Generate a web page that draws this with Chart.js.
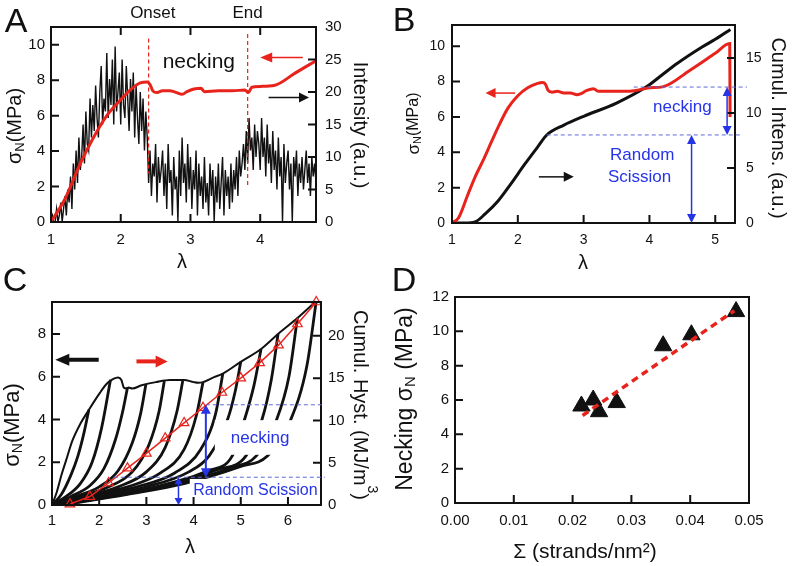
<!DOCTYPE html>
<html><head><meta charset="utf-8">
<script src="https://cdn.jsdelivr.net/npm/chart.js@4.4.1/dist/chart.umd.min.js"></script>
<style>
html,body{margin:0;padding:0;background:#fff;}
#wrap{position:relative;width:793px;height:566px;overflow:hidden;background:#fff;}
#wrap canvas{position:absolute;left:0;top:0;}
</style></head><body>
<div id="wrap">
<canvas id="cA" width="793" height="566"></canvas>
<canvas id="cB" width="793" height="566"></canvas>
<canvas id="cC" width="793" height="566"></canvas>
<canvas id="cD" width="793" height="566"></canvas>
</div>
<script>
// ================= DATA =================
// Panel A : stress (left axis) and scattered intensity (right axis), sampled every 0.02 in lambda from 1.00
const aStressLam = [1.0,1.2,1.42,1.6,1.8,2.0,2.15,2.28,2.38,2.42,2.46,2.52,2.6,2.7,2.8,2.88,2.95,3.05,3.15,3.2,3.4,3.6,3.78,3.83,3.88,4.0,4.2,4.5,4.8];
const aStress    = [0,1.3,3.3,4.7,6.0,6.9,7.5,7.85,7.9,7.75,7.4,7.3,7.4,7.4,7.3,7.2,7.35,7.5,7.55,7.35,7.4,7.4,7.45,7.3,7.6,7.65,7.7,8.4,9.1];
const aIntensityStart = 1.0, aIntensityStep = 0.02;
const aIntensity = [
 0,1,0,0,2,0,1,3,0,2,
 4,1,5,3,7,2,9,5,11,6,
 13,8,10,15,9,17,12,11,19,13,
 18,14,21,16,13,20,24,15,19,17,
 26,16,22,18,25,15,27,17,20,23,
 15,25,18,16,24,19,14,22,17,23,
 13,21,16,12,20,14,19,11,17,13,
 6,11,4,9,7,12,3,10,6,8,
 11,4,9,2,12,6,8,1,10,5,
 7,0,11,4,13,6,9,3,12,5,
 10,2,8,5,11,1,9,4,7,2,
 10,3,6,1,9,4,8,0,7,3,
 9,2,6,10,1,8,4,7,2,9,
 3,8,5,10,4,11,7,9,12,8,
 14,9,16,11,13,8,15,10,14,12,
 8,16,10,13,7,15,9,12,6,14,
 8,11,5,13,7,10,0,12,6,9,
 11,5,9,0,10,7,11,4,9,6,
 10,5,8,11,6,9,4,10,7,9,
 6];
const aXTicks = [1,2,3,4], aYTicks = [0,2,4,6,8,10], aY2Ticks = [0,5,10,15,20,25,30];

// Panel B : stress (left) and cumulative intensity (right)
const bStressLam = [1.0,1.1,1.23,1.35,1.48,1.6,1.73,1.85,2.0,2.15,2.3,2.38,2.42,2.46,2.52,2.6,2.7,2.8,2.9,2.95,3.05,3.15,3.22,3.4,3.6,3.8,4.0,4.2,4.6,5.0,5.22,5.225];
const bStress    = [0,0.3,1.5,2.6,3.6,4.6,5.65,6.5,7.2,7.65,7.9,7.95,7.85,7.5,7.4,7.45,7.35,7.35,7.25,7.3,7.5,7.6,7.45,7.45,7.45,7.5,7.65,7.7,8.6,9.6,10.15,6.0];
const bCumLam = [1.0,1.2,1.35,1.5,1.7,1.9,2.1,2.3,2.44,2.7,3.0,3.5,3.96,4.2,4.42,4.8,5.0,5.23];
const bCum    = [0,0,0.1,0.8,2.0,3.6,5.3,6.9,8.0,8.9,9.7,10.9,12.4,13.5,14.5,16.0,16.7,17.6];
const bXTicks = [1,2,3,4,5], bYTicks = [0,2,4,6,8,10], bY2Ticks = [0,5,10,15];

// Panel C : cyclic loading envelope, cycles (left) and cumulative hysteresis (right)
const cEnvLam = [1.0,1.1,1.2,1.3,1.43,1.6,1.78,2.0,2.15,2.3,2.4,2.47,2.52,2.58,2.62,2.7,2.9,3.2,3.5,3.8,4.0,4.1,4.2,4.4,4.62,5.0,5.43,5.79,6.2,6.6];
const cEnvSig = [0,0.6,1.4,2.1,3.0,3.8,4.45,5.2,5.65,5.9,5.97,5.85,5.5,5.45,5.5,5.45,5.6,5.75,5.85,5.85,5.75,5.72,5.75,5.95,6.15,6.7,7.3,8.0,8.75,9.55];
const cCycLam = [
 [1.0,1.2,1.4,1.55,1.68,1.78],
 [1.0,1.3,1.6,1.85,2.05,2.24],
 [1.0,1.4,1.8,2.1,2.35,2.5,2.6],
 [1.0,1.5,2.0,2.4,2.7,2.88,2.99],
 [1.0,1.6,2.2,2.7,3.05,3.27,3.38],
 [1.0,1.7,2.4,3.0,3.4,3.65,3.77],
 [1.0,1.8,2.6,3.3,3.8,4.06,4.2],
 [1.0,1.9,2.8,3.6,4.15,4.47,4.62],
 [1.0,2.0,3.0,3.9,4.33,4.72,4.88,5.0],
 [1.05,2.1,3.2,4.3,4.82,5.08,5.28,5.43],
 [1.1,2.2,3.4,4.5,5.11,5.45,5.65,5.79],
 [1.15,2.4,3.6,4.8,5.33,5.76,6.02,6.2],
 [1.2,2.6,3.8,5.0,5.57,6.06,6.4,6.6]
];
const cCycSig = [
 [0,0.5,1.4,2.3,3.4,4.45],
 [0,0.4,1.0,2.0,3.6,5.86],
 [0,0.4,0.9,1.7,3.1,4.4,5.5],
 [0,0.4,0.85,1.6,2.9,4.3,5.65],
 [0,0.4,0.85,1.55,2.8,4.4,5.8],
 [0,0.4,0.85,1.55,2.7,4.4,5.8],
 [0,0.4,0.85,1.5,2.6,4.2,5.75],
 [0,0.4,0.85,1.5,2.6,4.3,6.15],
 [0,0.4,0.85,1.55,2.3,4.0,5.3,6.7],
 [0,0.4,0.85,1.6,2.3,4.0,5.6,7.3],
 [0,0.4,0.9,1.65,2.3,4.0,5.9,8.0],
 [0,0.45,0.95,1.75,2.3,4.0,6.0,8.75],
 [0,0.5,1.0,1.8,2.3,4.0,6.5,9.55]
];
const cHystLam = [1.38,1.8,2.2,2.6,3.0,3.4,3.8,4.2,4.6,5.0,5.4,5.8,6.2,6.6];
const cHyst    = [0.1,1.0,2.6,4.35,6.1,7.9,9.7,11.5,13.3,15.0,16.8,18.9,21.4,24.0];
const cXTicks = [1,2,3,4,5,6], cYTicks = [0,2,4,6,8], cY2Ticks = [0,5,10,15,20];

// Panel D : necking stress vs strand density
const dSigma   = [0.0215,0.0235,0.0245,0.0275,0.0354,0.0402,0.0478];
const dNecking = [5.65,6.0,5.32,5.85,9.16,9.8,11.15];
const dFitSigma  = [0.0217,0.0475];
const dFitStress = [5.1,11.2];
const dXTicks = [0,0.01,0.02,0.03,0.04,0.05], dYTicks = [0,2,4,6,8,10,12];

// ================= HELPERS =================
const FONT = '"Liberation Sans", Arial, Helvetica, sans-serif';
const RED = '#e8231c', BLK = '#111111', BLUE = '#2634e6', BLUED = '#6068d8';
Chart.defaults.font.family = FONT;
Chart.defaults.color = BLK;
function fnt(s){ return s + 'px ' + FONT; }
function pts(xs, ys){ return xs.map((x,i)=>({x:x, y:ys[i]})); }

function scale(min, max, vals, pos, size, pad, fs, fmt){
  const horiz = (pos === 'bottom' || pos === 'top');
  return {
    type:'linear', position:pos, min:min, max:max,
    grid:{display:false, drawTicks:false},
    border:{display:false},
    ticks:{padding:pad, color:BLK, font:{family:FONT, size:fs}, autoSkip:false, maxRotation:0, minRotation:0,
           callback: fmt || (v => String(v))},
    afterBuildTicks: s => { s.ticks = vals.map(v => ({value:v})); },
    afterFit: horiz ? (s => { s.height = size; }) : (s => { s.width = size; })
  };
}

function frame(chart, spec){
  const ctx = chart.ctx, a = chart.chartArea, L = 8;
  ctx.save();
  ctx.strokeStyle = BLK; ctx.lineWidth = 2;
  ctx.strokeRect(a.left, a.top, a.right - a.left, a.bottom - a.top);
  ctx.beginPath();
  (spec.bottom||[]).forEach(v => { const x = chart.scales.x.getPixelForValue(v); ctx.moveTo(x, a.bottom); ctx.lineTo(x, a.bottom - L); });
  (spec.top||[]).forEach(v => { const x = chart.scales.x.getPixelForValue(v); ctx.moveTo(x, a.top); ctx.lineTo(x, a.top + L); });
  (spec.left||[]).forEach(v => { const y = chart.scales.y.getPixelForValue(v); ctx.moveTo(a.left, y); ctx.lineTo(a.left + L, y); });
  (spec.right||[]).forEach(v => { const y = chart.scales.y2.getPixelForValue(v); ctx.moveTo(a.right, y); ctx.lineTo(a.right - L, y); });
  ctx.stroke();
  ctx.restore();
}

function arrow(ctx, x1, y1, x2, y2, o){
  ctx.save();
  ctx.strokeStyle = o.color; ctx.fillStyle = o.color; ctx.lineWidth = o.w;
  const a = Math.atan2(y2 - y1, x2 - x1), hl = o.hl, hw = o.hw;
  const sx = o.both ? x1 + Math.cos(a)*hl*0.8 : x1, sy = o.both ? y1 + Math.sin(a)*hl*0.8 : y1;
  const ex = x2 - Math.cos(a)*hl*0.8, ey = y2 - Math.sin(a)*hl*0.8;
  ctx.beginPath(); ctx.moveTo(sx, sy); ctx.lineTo(ex, ey); ctx.stroke();
  const head = (x, y, t) => {
    ctx.beginPath(); ctx.moveTo(x, y);
    ctx.lineTo(x - Math.cos(t)*hl + Math.sin(t)*hw, y - Math.sin(t)*hl - Math.cos(t)*hw);
    ctx.lineTo(x - Math.cos(t)*hl - Math.sin(t)*hw, y - Math.sin(t)*hl + Math.cos(t)*hw);
    ctx.closePath(); ctx.fill();
  };
  head(x2, y2, a); if (o.both) head(x1, y1, a + Math.PI);
  ctx.restore();
}

function rich(ctx, x, y, rot, parts, color){
  ctx.save(); ctx.translate(x, y); ctx.rotate(rot);
  ctx.fillStyle = color || BLK; ctx.textBaseline = 'middle'; ctx.textAlign = 'left';
  let tot = 0;
  const ws = parts.map(p => { ctx.font = fnt(p[1]); const w = ctx.measureText(p[0]).width; tot += w; return w; });
  let cx = -tot/2;
  parts.forEach((p, i) => { ctx.font = fnt(p[1]); ctx.fillText(p[0], cx, p[2] || 0); cx += ws[i]; });
  ctx.restore();
}

function hdash(ctx, x1, x2, y, color, dash, w){
  ctx.save(); ctx.strokeStyle = color; ctx.lineWidth = w || 1; ctx.setLineDash(dash);
  ctx.beginPath(); ctx.moveTo(x1, y); ctx.lineTo(x2, y); ctx.stroke(); ctx.restore();
}
function vdash(ctx, x, y1, y2, color, dash, w){
  ctx.save(); ctx.strokeStyle = color; ctx.lineWidth = w || 1; ctx.setLineDash(dash);
  ctx.beginPath(); ctx.moveTo(x, y1); ctx.lineTo(x, y2); ctx.stroke(); ctx.restore();
}

const baseOpts = {responsive:false, animation:false, devicePixelRatio:1, events:[],
  plugins:{legend:{display:false}, tooltip:{enabled:false}}};

// ================= PANEL A =================
new Chart(document.getElementById('cA'), {
  type:'line',
  data:{datasets:[
    {data:pts(aStressLam, aStress), yAxisID:'y', borderColor:RED, borderWidth:3, pointRadius:0, cubicInterpolationMode:'monotone', fill:false},
    {data:aIntensity.map((v,i)=>({x:+(aIntensityStart + aIntensityStep*i).toFixed(2), y:v})), yAxisID:'y2', borderColor:BLK, borderWidth:1.4, pointRadius:0, tension:0, fill:false}
  ]},
  options:Object.assign({}, baseOpts, {
    layout:{padding:{left:0, top:27, right:0, bottom:0}},
    scales:{
      x: scale(1, 4.8, aXTicks, 'bottom', 344, 9, 15),
      y: scale(0, 11, aYTicks, 'left', 51, 6, 15),
      y2: scale(0, 30, aY2Ticks, 'right', 477, 9, 15)
    }
  }),
  plugins:[{id:'decoA', afterDraw(chart){
    const ctx = chart.ctx, X = v => chart.scales.x.getPixelForValue(v), Y = v => chart.scales.y.getPixelForValue(v);
    frame(chart, {bottom:[2,3,4], top:[2,3,4], left:[2,4,6,8,10], right:[5,10,15,20,25]});
    vdash(ctx, X(2.40), Y(10.35), Y(2.75), RED, [4,3], 1.2);
    vdash(ctx, X(3.82), Y(10.6), Y(1.95), RED, [4,3], 1.2);
    rich(ctx, X(3.12), Y(9.0), 0, [['necking', 21]]);
    arrow(ctx, X(4.61), Y(9.28), X(4.0), Y(9.28), {color:RED, w:1.5, hl:12, hw:5});
    arrow(ctx, X(4.12), Y(7.03), X(4.70), Y(7.03), {color:BLK, w:1.5, hl:10, hw:5});
    rich(ctx, X(2.46), 13, 0, [['Onset', 17]]);
    rich(ctx, X(3.82), 13, 0, [['End', 17]]);
    rich(ctx, 16, 22.5, 0, [['A', 34]]);
    rich(ctx, 15, 126, -Math.PI/2, [['σ', 20], ['N', 13, 5], ['(MPa)', 20]]);
    rich(ctx, 360, 125, Math.PI/2, [['Intensity (a.u.)', 20]]);
    rich(ctx, 182, 262, 0, [['λ', 20]]);
  }}]
});

// ================= PANEL B =================
new Chart(document.getElementById('cB'), {
  type:'line',
  data:{datasets:[
    {data:pts(bStressLam, bStress), yAxisID:'y', borderColor:RED, borderWidth:3, pointRadius:0, cubicInterpolationMode:'monotone', fill:false},
    {data:pts(bCumLam, bCum), yAxisID:'y2', borderColor:BLK, borderWidth:3, pointRadius:0, cubicInterpolationMode:'monotone', fill:false}
  ]},
  options:Object.assign({}, baseOpts, {
    layout:{padding:{left:0, top:25, right:0, bottom:0}},
    scales:{
      x: scale(1, 5.3, bXTicks, 'bottom', 343, 9, 14),
      y: scale(0, 11.2, bYTicks, 'left', 452, 7, 14),
      y2: scale(0, 18, bY2Ticks, 'right', 58, 11, 14)
    }
  }),
  plugins:[{id:'decoB', afterDraw(chart){
    const ctx = chart.ctx, X = v => chart.scales.x.getPixelForValue(v), Y = v => chart.scales.y.getPixelForValue(v);
    frame(chart, {bottom:[2,3,4,5], left:[2,4,6,8,10], right:[5,10,15]});
    hdash(ctx, X(3.76), X(5.48), Y(7.69), BLUED, [4,3], 1);
    hdash(ctx, X(2.44), X(5.40), Y(4.98), BLUED, [4,3], 1);
    arrow(ctx, X(5.18), Y(7.69), X(5.18), Y(4.98), {color:BLUE, w:1.5, hl:9, hw:4.5, both:true});
    arrow(ctx, X(4.64), Y(4.98), X(4.64), Y(0), {color:BLUE, w:1.5, hl:9, hw:4.5, both:true});
    rich(ctx, X(4.50), Y(6.56), 0, [['necking', 17]], BLUE);
    rich(ctx, X(3.89), Y(3.85), 0, [['Random', 17]], BLUE);
    rich(ctx, X(3.85), Y(2.61), 0, [['Scission', 17]], BLUE);
    arrow(ctx, X(1.96), Y(7.35), X(1.51), Y(7.35), {color:RED, w:1.5, hl:10, hw:5});
    arrow(ctx, X(2.32), Y(2.61), X(2.85), Y(2.61), {color:BLK, w:1.5, hl:10, hw:5});
    rich(ctx, 404, 21.5, 0, [['B', 34]]);
    rich(ctx, 414, 123.5, -Math.PI/2, [['σ', 17], ['N', 11, 4], ['(MPa)', 16]]);
    rich(ctx, 778, 128, Math.PI/2, [['Cumul. Intens. (a.u.)', 20]]);
    rich(ctx, 583, 263, 0, [['λ', 20]]);
  }}]
});

// ================= PANEL C =================
const cSets = [
  {data:pts(cHystLam, cHyst), yAxisID:'y2', borderColor:RED, borderWidth:1.5, pointStyle:'triangle', pointRadius:5.5,
   pointBorderColor:RED, pointBackgroundColor:'rgba(255,255,255,0)', pointBorderWidth:1.2, tension:0, fill:false, clip:false},
  {data:pts(cEnvLam, cEnvSig), yAxisID:'y', borderColor:BLK, borderWidth:2, pointRadius:0, cubicInterpolationMode:'monotone', fill:false}
];
cCycLam.forEach((lam, i) => cSets.push({data:pts(lam, cCycSig[i]), yAxisID:'y', borderColor:BLK, borderWidth:2.8, pointRadius:0, cubicInterpolationMode:'monotone', fill:false}));

new Chart(document.getElementById('cC'), {
  type:'line',
  data:{datasets:cSets},
  options:Object.assign({}, baseOpts, {
    layout:{padding:{left:0, top:302, right:0, bottom:0}},
    scales:{
      x: scale(1, 6.7, cXTicks, 'bottom', 61, 7, 15),
      y: scale(0, 9.5, cYTicks, 'left', 52, 6, 15),
      y2: scale(0, 24, cY2Ticks, 'right', 472, 7, 15)
    }
  }),
  plugins:[{id:'decoC',
    afterDatasetsDraw(chart){
      const ctx = chart.ctx, X = v => chart.scales.x.getPixelForValue(v), Y = v => chart.scales.y.getPixelForValue(v);
      ctx.save(); ctx.fillStyle = '#ffffff';
      ctx.fillRect(X(4.45), Y(3.97), X(6.45) - X(4.45), Y(2.35) - Y(3.97));
      ctx.fillRect(X(3.92), Y(1.22), X(6.68) - X(3.92), Y(0.2) - Y(1.22));
      ctx.restore();
    },
    afterDraw(chart){
      const ctx = chart.ctx, X = v => chart.scales.x.getPixelForValue(v), Y = v => chart.scales.y.getPixelForValue(v);
      frame(chart, {bottom:[2,3,4,5,6], left:[2,4,6,8], right:[5,10,15,20]});
      hdash(ctx, X(4.26), X(6.78), Y(4.69), BLUED, [4,3], 1);
      hdash(ctx, X(2.31), X(6.78), Y(1.3), BLUED, [4,3], 1);
      arrow(ctx, X(4.26), Y(4.69), X(4.26), Y(1.3), {color:BLUE, w:2, hl:9, hw:5, both:true});
      arrow(ctx, X(3.68), Y(1.3), X(3.68), Y(0), {color:BLUE, w:1.5, hl:7, hw:4, both:true});
      rich(ctx, X(5.41), Y(3.13), 0, [['necking', 17]], BLUE);
      rich(ctx, X(5.31), Y(0.67), 0, [['Random Scission', 16]], BLUE);
      arrow(ctx, X(1.99), Y(6.8), X(1.07), Y(6.8), {color:BLK, w:4, hl:14, hw:6});
      arrow(ctx, X(2.79), Y(6.72), X(3.45), Y(6.72), {color:RED, w:4, hl:12, hw:6});
      rich(ctx, 15, 281.5, 0, [['C', 34]]);
      rich(ctx, 13, 425, -Math.PI/2, [['σ', 22], ['N', 14, 5], ['(MPa)', 22]]);
      rich(ctx, 360, 405, Math.PI/2, [['Cumul. Hyst. (MJ/m', 20], ['3', 14, -12], [')', 20]]);
      rich(ctx, 190, 547, 0, [['λ', 20]]);
    }
  }]
});

// ================= PANEL D =================
new Chart(document.getElementById('cD'), {
  type:'line',
  data:{datasets:[
    {data:pts(dFitSigma, dFitStress), borderColor:RED, borderWidth:3.5, borderDash:[7,5], pointRadius:0, tension:0, fill:false},
    {data:pts(dSigma, dNecking), showLine:false, pointStyle:'triangle', pointRadius:10, pointBackgroundColor:BLK, pointBorderColor:BLK, pointBorderWidth:1}
  ]},
  options:Object.assign({}, baseOpts, {
    layout:{padding:{left:0, top:297, right:44, bottom:0}},
    scales:{
      x: scale(0, 0.05, dXTicks, 'bottom', 63, 9, 15, v => Number(v).toFixed(2)),
      y: scale(0, 12, dYTicks, 'left', 455, 6, 15)
    }
  }),
  plugins:[{id:'decoD', afterDraw(chart){
    const ctx = chart.ctx;
    frame(chart, {bottom:[0.01,0.02,0.03,0.04], left:[2,4,6,8,10]});
    rich(ctx, 404, 281.5, 0, [['D', 34]]);
    rich(ctx, 406, 399, -Math.PI/2, [['Necking σ', 23], ['N', 15, 5], [' (MPa)', 23]]);
    rich(ctx, 585, 552, 0, [['Σ (strands/nm²)', 21]]);
  }}]
});
</script>
</body></html>
